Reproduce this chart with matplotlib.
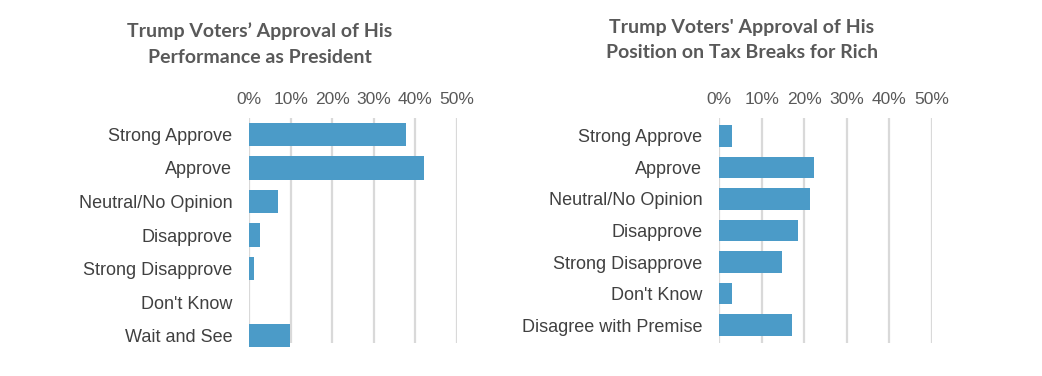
import numpy as np
from matplotlib import pyplot as plt

# left chart: overall performance
perf_labels = ["Strong Approve", "Approve", "Neutral/No Opinion", "Disapprove",
               "Strong Disapprove", "Don't Know", "Wait and See"]
perf_values = [37.7, 42.0, 6.9, 2.6, 1.2, 0.0, 9.9]

# right chart: tax breaks for the rich
tax_labels = ["Strong Approve", "Approve", "Neutral/No Opinion", "Disapprove",
              "Strong Disapprove", "Don't Know", "Disagree with Premise"]
tax_values = [3.0, 22.3, 21.4, 18.5, 14.8, 3.0, 17.1]

ticks = [0, 10, 20, 30, 40, 50]
tick_labels = ["0%", "10%", "20%", "30%", "40%", "50%"]

bar_color = "#4b9bc8"
text_color = "#404040"
title_color = "#595959"

fig = plt.figure(figsize=(10.42, 3.76), dpi=100)


def draw(rect, labels, values, ylim, height, title, title_xy):
    ax = fig.add_axes(rect)
    y = np.arange(len(labels))
    ax.barh(y, values, height=height, color=bar_color, clip_on=False, zorder=3)
    ax.set_xlim(0, 50)
    ax.set_ylim(*ylim)
    ax.set_xticks(ticks)
    ax.set_xticklabels(tick_labels, fontsize=12.5, color=title_color,
                       family="Liberation Sans")
    ax.xaxis.tick_top()
    ax.set_yticks(y)
    ax.set_yticklabels(labels, fontsize=13, color=text_color,
                       family="Liberation Sans")
    ax.tick_params(axis="y", length=0, pad=12)
    ax.tick_params(axis="x", length=0, pad=8)
    ax.grid(axis="x", color="#d9d9d9", linewidth=1.6, zorder=0)
    for s in ax.spines.values():
        s.set_visible(False)
    fig.text(title_xy[0], title_xy[1], title, ha="center", va="center",
             fontsize=14, fontweight="bold", color=title_color,
             family="Lato", linespacing=1.6)
    return ax


draw([249 / 1042, 1 - 343 / 376, 208 / 1042, 225 / 376],
     perf_labels, perf_values, (6.22, -0.49), 0.69,
     "Trump Voters’ Approval of His\nPerformance as President",
     (260 / 1042, 1 - 44 / 376))

draw([719 / 1042, 1 - 343 / 376, 213 / 1042, 225 / 376],
     tax_labels, tax_values, (6.57, -0.57), 0.67,
     "Trump Voters' Approval of His\nPosition on Tax Breaks for Rich",
     (742 / 1042, 1 - 40 / 376))

plt.savefig("out.png", dpi=100)
